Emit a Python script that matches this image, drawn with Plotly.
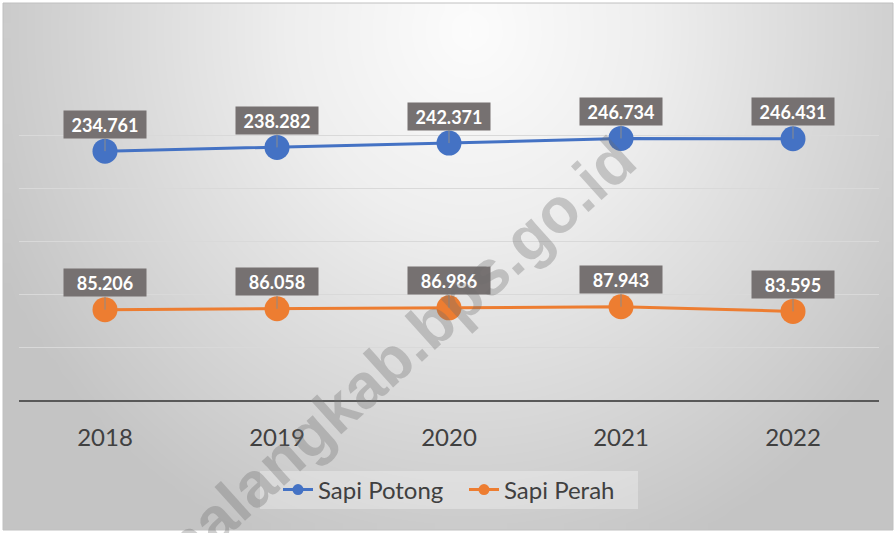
import numpy as np
import plotly.graph_objects as go

# ---- data ----
years = ["2018", "2019", "2020", "2021", "2022"]
sapi_potong = [234761, 238282, 242371, 246734, 246431]
sapi_perah = [85206, 86058, 86986, 87943, 83595]
series_names = ["Sapi Potong", "Sapi Perah"]
watermark_text = "malangkab.bps.go.id"

W, H = 896, 533
BLUE = "#4472C4"
ORANGE = "#ED7D31"
FONT = "Lato"
xpos = list(range(len(years)))


def fmt(v):
    return f"{v:,}".replace(",", ".")


fig = go.Figure()

# ---- background radial gradient (styling only) ----
nx, ny = 60, 40
x0, x1, y0, y1 = 3, 893, 3, 530
dxc = (x1 - x0) / nx
dyc = (y1 - y0) / ny
xc = x0 + dxc / 2 + dxc * np.arange(nx)
yc = y0 + dyc / 2 + dyc * np.arange(ny)
XX, YY = np.meshgrid(xc, yc)
rr = np.sqrt(((XX - 470) / 520.0) ** 2 + ((YY - 30) / 560.0) ** 2)
rr = np.clip(rr, 0, 1)
fig.add_trace(go.Heatmap(
    x=xc, y=yc, z=rr, zmin=0, zmax=1, zsmooth="best",
    colorscale=[[0, "#fcfcfc"], [0.35, "#eeeeee"], [1, "#c4c4c4"]],
    showscale=False, hoverinfo="skip", xaxis="x", yaxis="y",
))

# ---- data traces ----
for name, vals, col in [(series_names[0], sapi_potong, BLUE),
                        (series_names[1], sapi_perah, ORANGE)]:
    fig.add_trace(go.Scatter(
        x=xpos, y=vals, mode="lines+markers", name=name,
        line=dict(color=col, width=3),
        marker=dict(color=col, size=25),
        xaxis="x2", yaxis="y2", showlegend=False,
    ))
    # legend-only entry with small marker
    fig.add_trace(go.Scatter(
        x=[None], y=[None], mode="lines+markers", name=name,
        line=dict(color=col, width=3),
        marker=dict(color=col, size=11),
        xaxis="x2", yaxis="y2", showlegend=True,
    ))

annotations = []
for vals in (sapi_potong, sapi_perah):
    for xi, v in zip(xpos, vals):
        annotations.append(dict(
            x=xi, y=v, xref="x2", yref="y2", text=fmt(v),
            showarrow=True, arrowhead=0, arrowwidth=1, arrowcolor="#8c8c8c",
            ax=0, ay=-27, standoff=0,
            bgcolor="#767171", width=82, height=27, borderpad=0,
            font=dict(family=FONT, size=18, color="white", weight="bold"),
            align="center", valign="middle",
        ))

annotations.append(dict(
    x=392 / W, y=1 - 359 / H, xref="paper", yref="paper",
    text=watermark_text, showarrow=False, textangle=-42,
    font=dict(family="Liberation Sans", size=63, color="rgba(110,110,110,0.33)",
              weight="bold"),
    xanchor="center", yanchor="middle",
))

plot_left, plot_right = 19, 879
plot_top, plot_bottom = 82, 400

fig.update_layout(
    width=W, height=H, autosize=False,
    margin=dict(l=0, r=0, t=0, b=0),
    paper_bgcolor="white", plot_bgcolor="rgba(0,0,0,0)",
    xaxis=dict(domain=[0, 1], range=[0, W], visible=False, fixedrange=True),
    yaxis=dict(domain=[0, 1], range=[H, 0], visible=False, fixedrange=True),
    xaxis2=dict(
        domain=[plot_left / W, plot_right / W], anchor="y2",
        range=[-0.5, 4.5], tickvals=xpos, ticktext=years,
        showgrid=False, showline=True, linecolor="#595959", linewidth=1.5,
        zeroline=False,
        ticks="", tickfont=dict(family=FONT, size=24, color="#404040"),
        ticklabelstandoff=15,
    ),
    yaxis2=dict(
        domain=[1 - plot_bottom / H, 1 - plot_top / H], anchor="x2",
        range=[0, 300000], dtick=50000, showgrid=True,
        gridcolor="#d9d9d9", gridwidth=1, zeroline=False,
        showticklabels=False, showline=False,
    ),
    showlegend=True,
    legend=dict(
        orientation="h", x=278 / W, xanchor="left",
        y=1 - 490 / H, yanchor="middle",
        bgcolor="rgba(0,0,0,0)",
        font=dict(family=FONT, size=24, color="#404040"),
        itemwidth=30, entrywidth=141, entrywidthmode="pixels",
    ),
    annotations=annotations,
    shapes=[
        dict(type="rect", xref="paper", yref="paper",
             x0=260 / W, x1=638 / W, y0=1 - 509 / H, y1=1 - 471 / H,
             fillcolor="rgba(255,255,255,0.3)", line=dict(width=0),
             layer="above"),
        dict(type="rect", xref="paper", yref="paper",
             x0=3 / W, x1=893 / W, y0=1 - 530 / H, y1=1 - 3 / H,
             line=dict(color="#c0c0c0", width=1), layer="above"),
    ],
)

fig.write_html("out.html", config={"displayModeBar": False},
               post_script="document.body.style.margin='0px';")
